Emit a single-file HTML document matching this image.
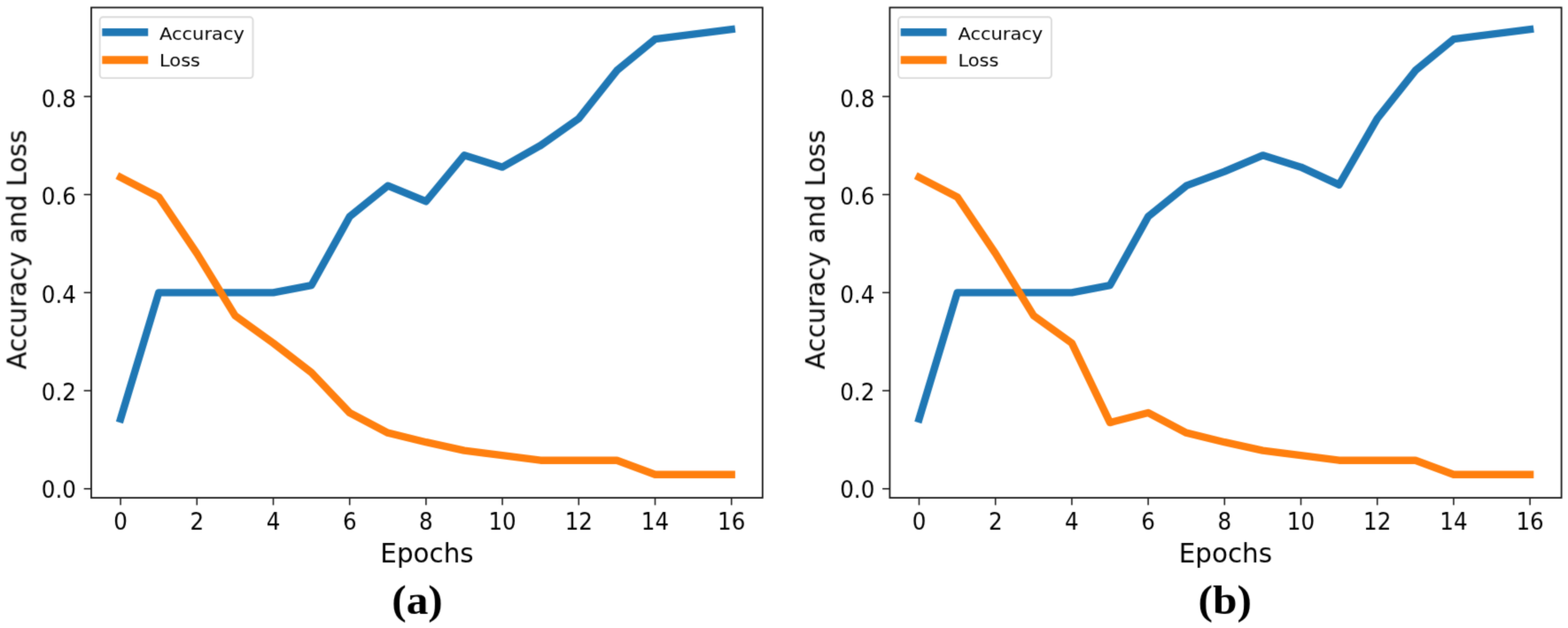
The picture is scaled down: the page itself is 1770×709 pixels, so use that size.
<!DOCTYPE html>
<html lang="en">
<head>
<meta charset="utf-8">
<title>Accuracy and Loss over Epochs</title>
<style>
html,body{margin:0;padding:0;background:#fff;}
body{width:1770px;height:709px;overflow:hidden;}
svg{display:block;}
.ln{fill:none;stroke-width:8.40;stroke-linejoin:round;stroke-linecap:square;}
.sp{fill:none;stroke:#111;stroke-width:1.75;stroke-linejoin:miter;}
.tk{stroke:#1a1a1a;stroke-width:1.55;}
.tl{font-family:"DejaVu Sans","Liberation Sans",sans-serif;font-size:25.80px;fill:#000;}
.al{font-family:"DejaVu Sans","Liberation Sans",sans-serif;font-size:30.00px;fill:#000;}
.yl{font-family:"DejaVu Sans","Liberation Sans",sans-serif;font-size:29.50px;fill:#000;}
.lt{font-family:"DejaVu Sans","Liberation Sans",sans-serif;font-size:20.20px;fill:#000;}
.lg{fill:#fff;fill-opacity:0.8;stroke:#d4d4d4;stroke-opacity:0.85;stroke-width:1.9;}
.lh{stroke-width:8.90;stroke-linecap:butt;}
.cp{font-family:"Liberation Serif","DejaVu Serif",serif;font-weight:bold;font-size:46.50px;fill:#000;}
</style>
</head>
<body>
<svg width="1770" height="709" viewBox="0 0 1770 709">
<defs><filter id="soft" x="0" y="0" width="1770" height="709" filterUnits="userSpaceOnUse" color-interpolation-filters="sRGB"><feConvolveMatrix order="3" kernelMatrix="0.019 0.100 0.019 0.100 0.524 0.100 0.019 0.100 0.019" divisor="1" edgeMode="none" preserveAlpha="false"/></filter></defs>
<rect x="0" y="0" width="1770" height="709" fill="#ffffff"/>
<g filter="url(#soft)">
<g transform="translate(0.00,0)">
<polyline class="ln" stroke="#1f77b4" points="136.10,472.91 179.20,330.36 222.30,330.36 265.40,330.36 308.50,330.36 351.60,322.06 394.70,244.55 437.80,209.68 480.90,227.39 524.00,175.35 567.10,188.64 610.20,164.28 653.30,133.83 696.40,79.58 739.50,44.15 782.60,38.61 825.70,33.08"/>
<polyline class="ln" stroke="#ff7f0e" points="136.10,200.26 179.20,222.41 222.30,286.07 265.40,356.38 308.50,387.38 351.60,420.60 394.70,465.99 437.80,488.69 480.90,499.21 524.00,508.62 567.10,514.16 610.20,519.69 653.30,519.69 696.40,519.69 739.50,535.75 782.60,535.75 825.70,535.75"/>
<rect class="sp" x="103.00" y="8.50" width="757.80" height="553.50"/>
<line class="tk" x1="136.10" y1="562.00" x2="136.10" y2="570.30"/>
<text class="tl" text-anchor="middle" transform="translate(136.10,597.90) scale(0.9540,1)">0</text>
<line class="tk" x1="222.30" y1="562.00" x2="222.30" y2="570.30"/>
<text class="tl" text-anchor="middle" transform="translate(222.30,597.90) scale(0.9540,1)">2</text>
<line class="tk" x1="308.50" y1="562.00" x2="308.50" y2="570.30"/>
<text class="tl" text-anchor="middle" transform="translate(308.50,597.90) scale(0.9540,1)">4</text>
<line class="tk" x1="394.70" y1="562.00" x2="394.70" y2="570.30"/>
<text class="tl" text-anchor="middle" transform="translate(394.70,597.90) scale(0.9540,1)">6</text>
<line class="tk" x1="480.90" y1="562.00" x2="480.90" y2="570.30"/>
<text class="tl" text-anchor="middle" transform="translate(480.90,597.90) scale(0.9540,1)">8</text>
<line class="tk" x1="567.10" y1="562.00" x2="567.10" y2="570.30"/>
<text class="tl" text-anchor="middle" transform="translate(567.10,597.90) scale(0.9540,1)">10</text>
<line class="tk" x1="653.30" y1="562.00" x2="653.30" y2="570.30"/>
<text class="tl" text-anchor="middle" transform="translate(653.30,597.90) scale(0.9540,1)">12</text>
<line class="tk" x1="739.50" y1="562.00" x2="739.50" y2="570.30"/>
<text class="tl" text-anchor="middle" transform="translate(739.50,597.90) scale(0.9540,1)">14</text>
<line class="tk" x1="825.70" y1="562.00" x2="825.70" y2="570.30"/>
<text class="tl" text-anchor="middle" transform="translate(825.70,597.90) scale(0.9540,1)">16</text>
<line class="tk" x1="94.70" y1="551.80" x2="103.00" y2="551.80"/>
<text class="tl" text-anchor="end" transform="translate(85.90,562.00) scale(0.9540,1)">0.0</text>
<line class="tk" x1="94.70" y1="441.08" x2="103.00" y2="441.08"/>
<text class="tl" text-anchor="end" transform="translate(85.90,452.08) scale(0.9540,1)">0.2</text>
<line class="tk" x1="94.70" y1="330.36" x2="103.00" y2="330.36"/>
<text class="tl" text-anchor="end" transform="translate(85.90,341.86) scale(0.9540,1)">0.4</text>
<line class="tk" x1="94.70" y1="219.64" x2="103.00" y2="219.64"/>
<text class="tl" text-anchor="end" transform="translate(85.90,230.94) scale(0.9540,1)">0.6</text>
<line class="tk" x1="94.70" y1="108.92" x2="103.00" y2="108.92"/>
<text class="tl" text-anchor="end" transform="translate(85.90,120.62) scale(0.9540,1)">0.8</text>
<text class="al" text-anchor="middle" transform="translate(482.00,635.30) scale(0.9800,1)">Epochs</text>
<text class="yl" text-anchor="middle" transform="translate(29.50,281.90) rotate(-90) scale(0.9885,1)">Accuracy and Loss</text>
<rect class="lg" x="112.70" y="19.30" width="172.80" height="68.80" rx="3.5" ry="3.5"/>
<line class="lh" stroke="#1f77b4" x1="115.30" y1="36.40" x2="167.20" y2="36.40"/>
<line class="lh" stroke="#ff7f0e" x1="115.30" y1="67.80" x2="167.20" y2="67.80"/>
<text class="lt" transform="translate(180.00,44.60) scale(1.0400,1)">Accuracy</text>
<text class="lt" transform="translate(180.00,74.70) scale(1.0400,1)">Loss</text>
<text class="cp" text-anchor="middle" transform="translate(471.00,692.90) scale(1.0630,1)">(a)</text>
</g>
<g transform="translate(901.40,0)">
<polyline class="ln" stroke="#1f77b4" points="136.10,472.91 179.20,330.36 222.30,330.36 265.40,330.36 308.50,330.36 351.60,322.06 394.70,244.55 437.80,209.68 480.90,193.62 524.00,175.35 567.10,188.64 610.20,208.57 653.30,133.83 696.40,79.58 739.50,44.15 782.60,38.61 825.70,33.08"/>
<polyline class="ln" stroke="#ff7f0e" points="136.10,200.26 179.20,222.41 222.30,286.07 265.40,356.38 308.50,387.38 351.60,477.06 394.70,465.99 437.80,488.69 480.90,499.21 524.00,508.62 567.10,514.16 610.20,519.69 653.30,519.69 696.40,519.69 739.50,535.75 782.60,535.75 825.70,535.75"/>
<rect class="sp" x="103.00" y="8.50" width="758.20" height="553.50"/>
<line class="tk" x1="136.10" y1="562.00" x2="136.10" y2="570.30"/>
<text class="tl" text-anchor="middle" transform="translate(136.10,597.90) scale(0.9540,1)">0</text>
<line class="tk" x1="222.30" y1="562.00" x2="222.30" y2="570.30"/>
<text class="tl" text-anchor="middle" transform="translate(222.30,597.90) scale(0.9540,1)">2</text>
<line class="tk" x1="308.50" y1="562.00" x2="308.50" y2="570.30"/>
<text class="tl" text-anchor="middle" transform="translate(308.50,597.90) scale(0.9540,1)">4</text>
<line class="tk" x1="394.70" y1="562.00" x2="394.70" y2="570.30"/>
<text class="tl" text-anchor="middle" transform="translate(394.70,597.90) scale(0.9540,1)">6</text>
<line class="tk" x1="480.90" y1="562.00" x2="480.90" y2="570.30"/>
<text class="tl" text-anchor="middle" transform="translate(480.90,597.90) scale(0.9540,1)">8</text>
<line class="tk" x1="567.10" y1="562.00" x2="567.10" y2="570.30"/>
<text class="tl" text-anchor="middle" transform="translate(567.10,597.90) scale(0.9540,1)">10</text>
<line class="tk" x1="653.30" y1="562.00" x2="653.30" y2="570.30"/>
<text class="tl" text-anchor="middle" transform="translate(653.30,597.90) scale(0.9540,1)">12</text>
<line class="tk" x1="739.50" y1="562.00" x2="739.50" y2="570.30"/>
<text class="tl" text-anchor="middle" transform="translate(739.50,597.90) scale(0.9540,1)">14</text>
<line class="tk" x1="825.70" y1="562.00" x2="825.70" y2="570.30"/>
<text class="tl" text-anchor="middle" transform="translate(825.70,597.90) scale(0.9540,1)">16</text>
<line class="tk" x1="94.70" y1="551.80" x2="103.00" y2="551.80"/>
<text class="tl" text-anchor="end" transform="translate(85.90,562.00) scale(0.9540,1)">0.0</text>
<line class="tk" x1="94.70" y1="441.08" x2="103.00" y2="441.08"/>
<text class="tl" text-anchor="end" transform="translate(85.90,452.08) scale(0.9540,1)">0.2</text>
<line class="tk" x1="94.70" y1="330.36" x2="103.00" y2="330.36"/>
<text class="tl" text-anchor="end" transform="translate(85.90,341.86) scale(0.9540,1)">0.4</text>
<line class="tk" x1="94.70" y1="219.64" x2="103.00" y2="219.64"/>
<text class="tl" text-anchor="end" transform="translate(85.90,230.94) scale(0.9540,1)">0.6</text>
<line class="tk" x1="94.70" y1="108.92" x2="103.00" y2="108.92"/>
<text class="tl" text-anchor="end" transform="translate(85.90,120.62) scale(0.9540,1)">0.8</text>
<text class="al" text-anchor="middle" transform="translate(482.00,635.30) scale(0.9800,1)">Epochs</text>
<text class="yl" text-anchor="middle" transform="translate(29.50,281.90) rotate(-90) scale(0.9885,1)">Accuracy and Loss</text>
<rect class="lg" x="112.70" y="19.30" width="172.80" height="68.80" rx="3.5" ry="3.5"/>
<line class="lh" stroke="#1f77b4" x1="115.30" y1="36.40" x2="167.20" y2="36.40"/>
<line class="lh" stroke="#ff7f0e" x1="115.30" y1="67.80" x2="167.20" y2="67.80"/>
<text class="lt" transform="translate(180.00,44.60) scale(1.0400,1)">Accuracy</text>
<text class="lt" transform="translate(180.00,74.70) scale(1.0400,1)">Loss</text>
<text class="cp" text-anchor="middle" transform="translate(481.40,692.90) scale(1.0630,1)">(b)</text>
</g>
</g>
</svg>
</body>
</html>
